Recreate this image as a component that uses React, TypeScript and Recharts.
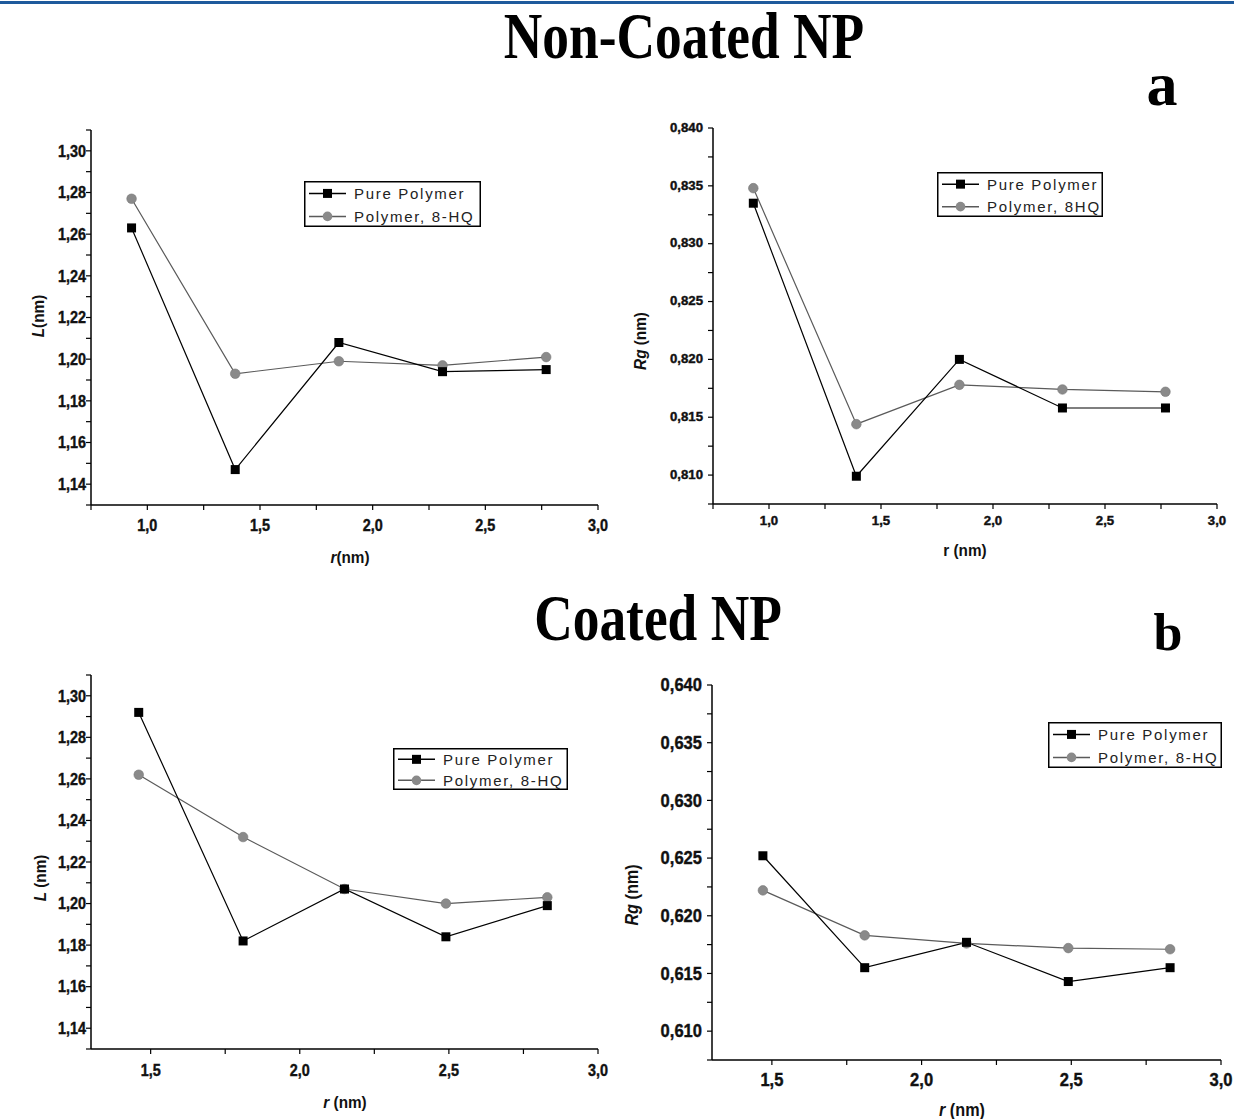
import React from 'react';
import { LineChart, Line, XAxis, YAxis } from 'recharts';

// (a) Non-coated NP, left: L vs r
const rNonCoatedL = [0.93, 1.39, 1.85, 2.31, 2.77];
const lPureNonCoated = [1.263, 1.147, 1.208, 1.194, 1.195];
const lHqNonCoated = [1.277, 1.193, 1.199, 1.197, 1.201];

// (a) Non-coated NP, right: Rg vs r
const rNonCoatedRg = [0.93, 1.39, 1.85, 2.31, 2.77];
const rgPureNonCoated = [0.8335, 0.8099, 0.82, 0.8158, 0.8158];
const rgHqNonCoated = [0.8348, 0.8144, 0.8178, 0.8174, 0.8172];

// (b) Coated NP, left: L vs r
const rCoatedL = [1.46, 1.81, 2.15, 2.49, 2.83];
const lPureCoated = [1.292, 1.182, 1.207, 1.184, 1.199];
const lHqCoated = [1.262, 1.232, 1.207, 1.2, 1.203];

// (b) Coated NP, right: Rg vs r
const rCoatedRg = [1.47, 1.81, 2.15, 2.49, 2.83];
const rgPureCoated = [0.6252, 0.6155, 0.6177, 0.6143, 0.6155];
const rgHqCoated = [0.6222, 0.6183, 0.6176, 0.6172, 0.6171];

// tick values (major ones get a label)
const xMajorNonCoated = [1.0, 1.5, 2.0, 2.5, 3.0];
const xMinorNonCoated = [0.75, 1.25, 1.75, 2.25, 2.75];
const xMajorCoated = [1.5, 2.0, 2.5, 3.0];
const xMinorCoated = [1.75, 2.25, 2.75];
const lMajor = [1.14, 1.16, 1.18, 1.2, 1.22, 1.24, 1.26, 1.28, 1.3];
const lMinor = [1.13, 1.15, 1.17, 1.19, 1.21, 1.23, 1.25, 1.27, 1.29, 1.31];
const rgMajorNonCoated = [0.81, 0.815, 0.82, 0.825, 0.83, 0.835, 0.84];
const rgMinorNonCoated = [0.8075, 0.8125, 0.8175, 0.8225, 0.8275, 0.8325, 0.8375];
const rgMajorCoated = [0.61, 0.615, 0.62, 0.625, 0.63, 0.635, 0.64];
const rgMinorCoated = [0.6075, 0.6125, 0.6175, 0.6225, 0.6275, 0.6325, 0.6375];

const legendNames = ['Pure Polymer', 'Polymer, 8-HQ'];
const legendNamesRg = ['Pure Polymer', 'Polymer, 8HQ'];

const SANS = '"Liberation Sans", Arial, sans-serif';
const SERIF = '"Liberation Serif", "Times New Roman", serif';
const PURE_COLOR = '#000';
const HQ_LINE = '#5a5a5a';
const HQ_DOT = '#8a8a8a';

const buildRows = (r: number[], pure: number[], hq: number[]) =>
  r.map((x, i) => ({ r: x, pure: pure[i], hq: hq[i] }));

const merge = (a: number[], b: number[]) => [...a, ...b].sort((p, q) => p - q);

const SquareDot = (props: any) => {
  const { cx, cy, index } = props;
  if (cx == null || cy == null) return <g key={`s-${index}`} />;
  return <rect key={`s-${index}`} x={cx - 4.5} y={cy - 4.5} width={9} height={9} fill={PURE_COLOR} />;
};

const CircleDot = (props: any) => {
  const { cx, cy, index } = props;
  if (cx == null || cy == null) return <g key={`c-${index}`} />;
  return <circle key={`c-${index}`} cx={cx} cy={cy} r={4.8} fill={HQ_DOT} stroke="#777" strokeWidth={0.6} />;
};

function makeTick(major: number[], digits: number, size: number, sx: number, dx: number, dy: number, anchor: string) {
  return (props: any) => {
    const { x, y, payload } = props;
    const v = payload.value as number;
    if (!major.some((m) => Math.abs(m - v) < 1e-6)) return <g />;
    return (
      <text
        transform={`translate(${x + dx},${y + dy}) scale(${sx},1)`}
        textAnchor={anchor}
        dominantBaseline="central"
        fontSize={size}
        fontWeight="bold"
        fontFamily={SANS}
        fill="#111"
        stroke="#111"
        strokeWidth={0.4}
      >
        {v.toFixed(digits).replace('.', ',')}
      </text>
    );
  };
}

const LegendBox = ({ x, y, w, h, names, fontSize }: any) => {
  const rows = [h * 0.27, h * 0.77];
  return (
    <svg width={w} height={h} style={{ position: 'absolute', left: x, top: y }}>
      <rect x={0.75} y={0.75} width={w - 1.5} height={h - 1.5} fill="#fff" stroke="#000" strokeWidth={1.5} />
      <line x1={5} x2={42} y1={rows[0]} y2={rows[0]} stroke={PURE_COLOR} strokeWidth={1.5} />
      <rect x={19} y={rows[0] - 4.5} width={9} height={9} fill={PURE_COLOR} />
      <line x1={5} x2={42} y1={rows[1]} y2={rows[1]} stroke={HQ_LINE} strokeWidth={1.5} />
      <circle cx={23.5} cy={rows[1]} r={4.8} fill={HQ_DOT} />
      {names.map((n: string, i: number) => (
        <text
          key={n}
          x={50}
          y={rows[i]}
          dominantBaseline="central"
          fontSize={fontSize}
          fontFamily={SANS}
          letterSpacing={1.7}
          fill="#222"
        >
          {n}
        </text>
      ))}
    </svg>
  );
};

const AxisTitle = ({ x, y, size, rotate, children }: any) => (
  <div
    style={{
      position: 'absolute',
      left: x,
      top: y,
      fontFamily: SANS,
      fontWeight: 'bold',
      fontSize: size,
      whiteSpace: 'nowrap',
      lineHeight: 1,
      color: '#111',
      transform: `translate(-50%,-50%) ${rotate ? 'rotate(-90deg) ' : ''}scaleX(0.9)`,
    }}
  >
    {children}
  </div>
);

const Panel = (p: any) => (
  <div style={{ position: 'absolute', left: p.left, top: p.top, width: p.width, height: p.height }}>
    <LineChart width={p.width} height={p.height} data={p.rows} margin={p.margin}>
      <XAxis
        dataKey="r"
        type="number"
        domain={p.xDomain}
        allowDataOverflow
        ticks={merge(p.xMajor, p.xMinor)}
        interval={0}
        height={p.xAxisHeight}
        axisLine={{ stroke: '#000', strokeWidth: 1.5 }}
        tickLine={{ stroke: '#000', strokeWidth: 1.2 }}
        tickSize={5}
        tickMargin={0}
        tick={makeTick(p.xMajor, 1, p.tickSize, p.tickScale, 0, p.xTickDy, 'middle')}
      />
      <YAxis
        type="number"
        domain={p.yDomain}
        allowDataOverflow
        ticks={merge(p.yMajor, p.yMinor)}
        interval={0}
        width={60}
        axisLine={{ stroke: '#000', strokeWidth: 1.5 }}
        tickLine={{ stroke: '#000', strokeWidth: 1.2 }}
        tickSize={5}
        tickMargin={0}
        tick={makeTick(p.yMajor, p.yDigits, p.tickSize, p.tickScale, p.yTickDx, 0, 'end')}
      />
      <Line
        dataKey="hq"
        type="linear"
        stroke={HQ_LINE}
        strokeWidth={1.2}
        dot={CircleDot}
        activeDot={false}
        isAnimationActive={false}
      />
      <Line
        dataKey="pure"
        type="linear"
        stroke={PURE_COLOR}
        strokeWidth={1.2}
        dot={SquareDot}
        activeDot={false}
        isAnimationActive={false}
      />
    </LineChart>
    <AxisTitle x={p.xTitle[0]} y={p.xTitle[1]} size={p.titleSize}>
      {p.xLabel}
    </AxisTitle>
    <AxisTitle x={p.yTitle[0]} y={p.yTitle[1]} size={p.titleSize} rotate>
      {p.yLabel}
    </AxisTitle>
    <LegendBox {...p.legend} />
  </div>
);

const Heading = ({ x, y, size, sx, sy, children }: any) => (
  <div
    style={{
      position: 'absolute',
      left: x,
      top: y,
      fontFamily: SERIF,
      fontWeight: 'bold',
      fontSize: size,
      lineHeight: 1,
      whiteSpace: 'nowrap',
      color: '#000',
      transformOrigin: '50% 0',
      transform: `translateX(-50%) scale(${sx},${sy})`,
    }}
  >
    {children}
  </div>
);

export default function App() {
  return (
    <div style={{ position: 'absolute', left: 0, top: 0, width: 1234, height: 1119, background: '#fff', overflow: 'hidden' }}>
      <div style={{ position: 'absolute', left: 0, top: 1, width: 1234, height: 3, background: '#1e5a9c' }} />
      <Heading x={684} y={4} size={60} sx={0.89} sy={1.08}>Non-Coated NP</Heading>
      <Heading x={1162} y={53} size={62} sx={1} sy={1}>a</Heading>
      <Heading x={658} y={586} size={60} sx={0.89} sy={1.08}>Coated NP</Heading>
      <Heading x={1168} y={607} size={52} sx={1} sy={1}>b</Heading>

      <Panel
        left={0}
        top={110}
        width={620}
        height={470}
        margin={{ top: 20, right: 22, left: 31, bottom: 25 }}
        xAxisHeight={50}
        rows={buildRows(rNonCoatedL, lPureNonCoated, lHqNonCoated)}
        xDomain={[0.75, 3]}
        yDomain={[1.13, 1.31]}
        xMajor={xMajorNonCoated}
        xMinor={xMinorNonCoated}
        yMajor={lMajor}
        yMinor={lMinor}
        yDigits={2}
        tickSize={16}
        tickScale={0.9}
        xTickDy={15}
        yTickDx={0}
        titleSize={17}
        xTitle={[350, 447]}
        yTitle={[38, 206]}
        xLabel={<><i>r</i>(nm)</>}
        yLabel={<><i>L</i>(nm)</>}
        legend={{ x: 304, y: 71, w: 177, h: 46, names: legendNames, fontSize: 15 }}
      />

      <Panel
        left={620}
        top={108}
        width={614}
        height={470}
        margin={{ top: 20, right: 17, left: 33, bottom: 24 }}
        xAxisHeight={50}
        rows={buildRows(rNonCoatedRg, rgPureNonCoated, rgHqNonCoated)}
        xDomain={[0.75, 3]}
        yDomain={[0.8075, 0.84]}
        xMajor={xMajorNonCoated}
        xMinor={xMinorNonCoated}
        yMajor={rgMajorNonCoated}
        yMinor={rgMinorNonCoated}
        yDigits={3}
        tickSize={12}
        tickScale={1.1}
        xTickDy={12}
        yTickDx={-5}
        titleSize={17}
        xTitle={[345, 442]}
        yTitle={[20, 233]}
        xLabel={<>r (nm)</>}
        yLabel={<><i>Rg</i> (nm)</>}
        legend={{ x: 317, y: 64, w: 166, h: 45, names: legendNamesRg, fontSize: 15 }}
      />

      <Panel
        left={0}
        top={655}
        width={620}
        height={464}
        margin={{ top: 20, right: 22, left: 31, bottom: 20 }}
        xAxisHeight={50}
        rows={buildRows(rCoatedL, lPureCoated, lHqCoated)}
        xDomain={[1.3, 3]}
        yDomain={[1.13, 1.31]}
        xMajor={xMajorCoated}
        xMinor={xMinorCoated}
        yMajor={lMajor}
        yMinor={lMinor}
        yDigits={2}
        tickSize={16}
        tickScale={0.9}
        xTickDy={16}
        yTickDx={0}
        titleSize={17}
        xTitle={[345, 447]}
        yTitle={[40, 223]}
        xLabel={<><i>r</i> (nm)</>}
        yLabel={<><i>L</i> (nm)</>}
        legend={{ x: 393, y: 93, w: 175, h: 42, names: legendNames, fontSize: 15 }}
      />

      <Panel
        left={620}
        top={665}
        width={614}
        height={454}
        margin={{ top: 20, right: 13, left: 32, bottom: 14 }}
        xAxisHeight={45}
        rows={buildRows(rCoatedRg, rgPureCoated, rgHqCoated)}
        xDomain={[1.3, 3]}
        yDomain={[0.6075, 0.64]}
        xMajor={xMajorCoated}
        xMinor={xMinorCoated}
        yMajor={rgMajorCoated}
        yMinor={rgMinorCoated}
        yDigits={3}
        tickSize={18}
        tickScale={0.92}
        xTickDy={15}
        yTickDx={-5}
        titleSize={18}
        xTitle={[342, 445]}
        yTitle={[12, 230]}
        xLabel={<><i>r</i> (nm)</>}
        yLabel={<><i>Rg</i> (nm)</>}
        legend={{ x: 428, y: 57, w: 174, h: 46, names: legendNames, fontSize: 15 }}
      />
    </div>
  );
}
